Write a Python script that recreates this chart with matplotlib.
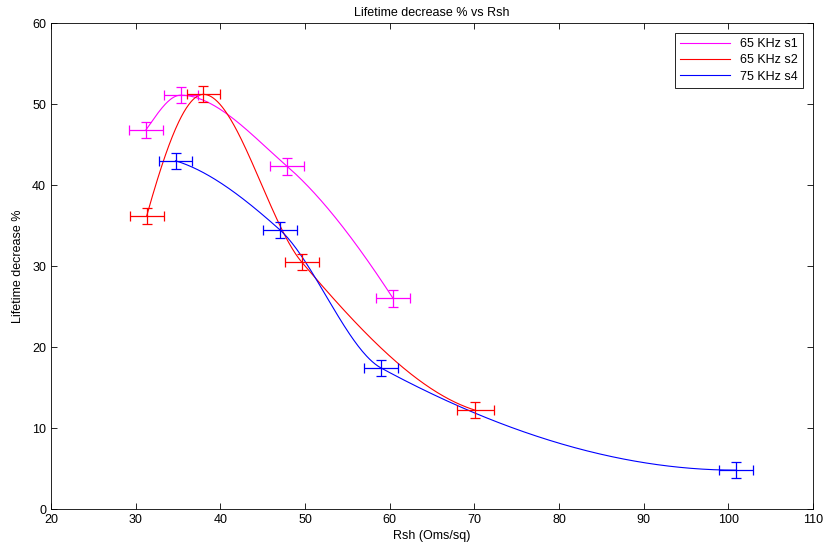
import numpy as np
import matplotlib
matplotlib.use("Agg")
import matplotlib.pyplot as plt

plt.rcParams['font.family'] = ['Liberation Sans', 'DejaVu Sans']

# Data
s1_x = [31.2, 35.3, 47.9, 60.4]
s1_y = [46.8, 51.1, 42.3, 26.0]
s1_xerr = [2.0, 2.0, 2.0, 2.0]
s1_yerr = [1.0, 1.0, 1.0, 1.0]

s2_x = [31.3, 38.0, 49.6, 70.1]
s2_y = [36.2, 51.2, 30.5, 12.2]
s2_xerr = [2.0, 2.0, 2.0, 2.2]
s2_yerr = [1.0, 1.0, 1.0, 1.0]

s4_x = [34.7, 47.0, 59.0, 100.9]
s4_y = [43.0, 34.5, 17.4, 4.8]
s4_xerr = [2.0, 2.0, 2.0, 2.0]
s4_yerr = [1.0, 1.0, 1.0, 1.0]

labels = ['65 KHz s1', '65 KHz s2', '75 KHz s4']
colors = ['#FF00FF', '#FF0000', '#0000FF']


def pchip(x, y, xq):
    x = np.asarray(x, float); y = np.asarray(y, float)
    h = np.diff(x); delta = np.diff(y) / h
    n = len(x)
    d = np.zeros(n)
    for k in range(1, n - 1):
        if delta[k - 1] * delta[k] > 0:
            w1 = 2 * h[k] + h[k - 1]
            w2 = h[k] + 2 * h[k - 1]
            d[k] = (w1 + w2) / (w1 / delta[k - 1] + w2 / delta[k])
        else:
            d[k] = 0.0

    def endpt(h0, h1, del0, del1):
        dd = ((2 * h0 + h1) * del0 - h0 * del1) / (h0 + h1)
        if np.sign(dd) != np.sign(del0):
            dd = 0.0
        elif np.sign(del0) != np.sign(del1) and abs(dd) > abs(3 * del0):
            dd = 3 * del0
        return dd
    d[0] = endpt(h[0], h[1], delta[0], delta[1])
    d[-1] = endpt(h[-1], h[-2], delta[-1], delta[-2])
    yq = np.empty_like(xq)
    for i, xv in enumerate(xq):
        k = min(max(np.searchsorted(x, xv) - 1, 0), n - 2)
        t = (xv - x[k]) / h[k]
        h00 = 2 * t**3 - 3 * t**2 + 1
        h10 = t**3 - 2 * t**2 + t
        h01 = -2 * t**3 + 3 * t**2
        h11 = t**3 - t**2
        yq[i] = h00 * y[k] + h10 * h[k] * d[k] + h01 * y[k + 1] + h11 * h[k] * d[k + 1]
    return yq


fig = plt.figure(figsize=(8.23, 5.5), dpi=100)
ax = fig.add_axes([0.062, 0.0745, 0.926, 0.8835])

series = [(s1_x, s1_y, s1_xerr, s1_yerr), (s2_x, s2_y, s2_xerr, s2_yerr),
          (s4_x, s4_y, s4_xerr, s4_yerr)]
for (x, y, xe, ye), c, lab in zip(series, colors, labels):
    xq = np.linspace(x[0], x[-1], 400)
    ax.plot(xq, pchip(x, y, xq), color=c, lw=0.8, label=lab)
for (x, y, xe, ye), c in zip(series, colors):
    ax.errorbar(x, y, xerr=xe, yerr=ye, fmt='none', ecolor=c, elinewidth=0.9,
                capsize=3.5, capthick=0.9)

ax.set_xlim(20, 110)
ax.set_ylim(0, 60)
ax.set_xticks(np.arange(20, 111, 10))
ax.set_yticks(np.arange(0, 61, 10))
ax.tick_params(direction='in', top=True, right=True, labelsize=9, length=4, width=0.6)
for sp in ax.spines.values():
    sp.set_linewidth(0.6)
ax.set_title('Lifetime decrease % vs Rsh', fontsize=9, pad=5)
ax.set_xlabel('Rsh (Oms/sq)', fontsize=9, labelpad=3)
ax.set_ylabel('Lifetime decrease %', fontsize=9, labelpad=6)
leg = ax.legend(loc='upper right', fontsize=9, fancybox=False, framealpha=1,
                edgecolor='black', handlelength=4.0, borderaxespad=0.8,
                labelspacing=0.35)
leg.get_frame().set_linewidth(0.6)

fig.savefig('out.png', dpi=100)
